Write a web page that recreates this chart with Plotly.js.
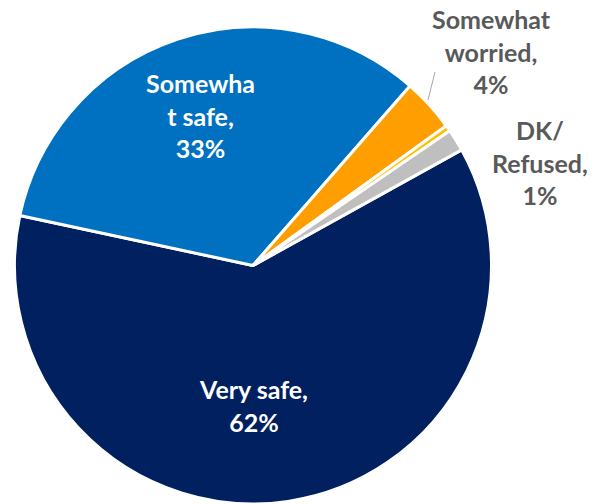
<!DOCTYPE html>
<html>
<head>
<meta charset="utf-8">
<script src="https://cdn.plot.ly/plotly-3.0.1.min.js"></script>
<style>html,body{margin:0;padding:0;background:#fff;}#chart{width:595px;height:504px;}</style>
</head>
<body>
<div id="chart"></div>
<script>
// Data (share of respondents, %)
const categories = ["Very safe", "Somewhat safe", "Somewhat worried", "Very worried", "DK/ Refused"];
const values = [61.3, 33.0, 3.6, 0.4, 1.5];
const shownPct = ["62%", "33%", "4%", "", "1%"];
const labelText = [
  "Very safe,<br>" + shownPct[0],
  "Somewha<br>t safe,<br>" + shownPct[1],
  "Somewhat<br>worried,<br>" + shownPct[2],
  "",
  "DK/<br>Refused,<br>" + shownPct[4]
];
const colors = ["#002060", "#0070C0", "#FF9E00", "#FFC000", "#BFBFBF"];

const W = 595, H = 504;
const px = x => x / W;
const py = y => 1 - y / H;

const font = "Lato, 'Open Sans', 'Liberation Sans', sans-serif";

const trace = {
  type: "pie",
  labels: categories,
  values: values,
  sort: false,
  direction: "clockwise",
  rotation: 61,
  marker: {colors: colors, line: {color: "#ffffff", width: 3}},
  textinfo: "none",
  hoverinfo: "label+percent",
  showlegend: false,
  domain: {x: [14 / W, 492 / W], y: [0, 477 / H]}
};

const annPos = [
  {x: 253, y: 405, color: "#ffffff"},
  {x: 200, y: 116, color: "#ffffff"},
  {x: 491, y: 52, color: "#595959"},
  null,
  {x: 540, y: 163, color: "#595959"}
];

const annotations = [];
categories.forEach((c, i) => {
  if (!annPos[i]) return;
  annotations.push({
    text: labelText[i],
    x: px(annPos[i].x), y: py(annPos[i].y),
    xref: "paper", yref: "paper",
    xanchor: "center", yanchor: "middle",
    showarrow: false,
    align: "center",
    font: {family: font, size: 25, color: annPos[i].color, weight: "bold"}
  });
});

const layout = {
  width: W, height: H,
  margin: {l: 0, r: 0, t: 0, b: 0},
  paper_bgcolor: "#ffffff",
  showlegend: false,
  annotations: annotations,
  shapes: [{
    type: "line", xref: "paper", yref: "paper",
    x0: px(435), y0: py(72), x1: px(428), y1: py(100),
    line: {color: "#A6A6A6", width: 1}
  }]
};

Plotly.newPlot("chart", [trace], layout, {displayModeBar: false, staticPlot: true});
</script>
</body>
</html>
